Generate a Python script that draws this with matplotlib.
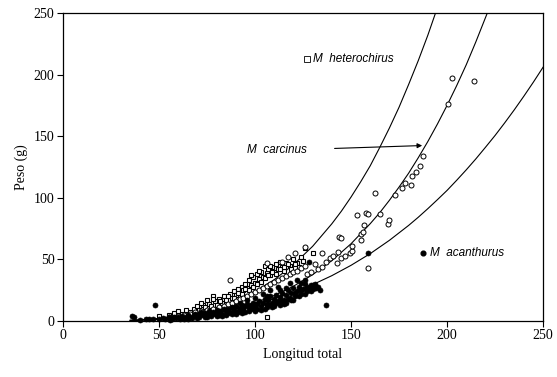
import matplotlib
matplotlib.use('Agg')
from matplotlib import pyplot as plt

# Fitted curves (longitud total -> peso)
het_curve_x = [35, 40, 50, 60, 70, 80, 90, 100, 110, 120, 130, 140, 145, 150, 155, 160, 165, 170, 175, 180, 185, 190, 196]
het_curve_y = [0.6, 0.9, 2.1, 3.9, 6.8, 10.9, 16.5, 23.9, 33.5, 45.7, 60.6, 78.9, 89.2, 100.6, 112.9, 126, 141, 156.7, 173.5, 192, 211.3, 232, 259]

car_curve_x = [35, 40, 50, 60, 70, 80, 90, 100, 110, 120, 130, 140, 150, 160, 165, 170, 175, 180, 185, 190, 195, 200, 205, 210, 215, 223]
car_curve_y = [0.35, 0.56, 1.24, 2.4, 4.1, 6.6, 10.1, 14.7, 20.7, 28.2, 37.6, 49, 62.7, 79, 88, 98, 108.7, 120, 132.5, 145.7, 159.9, 175, 191, 208, 226.6, 258]

aca_curve_x = [35, 40, 50, 60, 70, 80, 90, 100, 110, 120, 130, 140, 150, 160, 170, 180, 185, 190, 195, 200, 205, 210, 215, 220, 225, 230, 235, 240, 245, 250]
aca_curve_y = [0.6, 0.9, 1.7, 3.0, 4.7, 7.0, 9.9, 13.6, 18.0, 23.3, 29.5, 36.8, 45.2, 54.7, 65.5, 77.6, 84.2, 91.2, 98.5, 106, 114.2, 122.7, 131.6, 141, 150.6, 160.8, 171.4, 182.5, 194, 206]

# M. acanthurus (filled circles)
aca_x = [36, 37, 48, 40, 43, 45, 47, 50, 52, 53, 55, 57, 58, 60, 61, 62, 64, 65, 66, 68,
         69, 70, 71, 72, 73, 74, 75, 76, 77, 78, 79, 80, 81, 82, 83, 84, 85, 86, 87, 88,
         89, 90, 91, 92, 93, 94, 95, 96, 97, 98, 99, 100, 101, 102, 103, 104, 105, 106, 107, 108,
         109, 110, 111, 112, 113, 114, 115, 116, 117, 118, 119, 120, 121, 122, 123, 124, 125, 126, 127, 128,
         129, 130, 131, 133, 134, 137, 128, 159, 120, 115, 110, 105, 100, 95, 90, 85, 80, 75, 70, 65,
         112, 118, 122, 108, 104, 100, 96, 92,
         56, 59, 63, 67, 71, 74, 77, 81, 83, 86, 88, 91, 93, 94, 97, 99, 101, 103, 106, 107,
         109, 111, 113, 114, 116, 117, 119, 121, 123, 124, 126, 127, 129, 130, 132, 124, 126, 116, 113, 106]
aca_y = [4, 3, 13, 1, 1.5, 2, 1.5, 2, 2.5, 1.5, 3, 2, 3.5, 3, 2, 4, 3, 5, 3.5, 4.5,
         6, 4, 5.5, 7, 5, 6.5, 4.5, 8, 6, 7.5, 5.5, 9, 7, 8.5, 6, 10, 8, 9.5, 7, 11,
         9, 12, 8.5, 10.5, 13, 9.5, 12, 14, 10.5, 13, 15, 11, 14, 16.5, 12, 15, 18, 13.5, 17, 20,
         14.5, 18, 21, 16, 19.5, 23, 17, 21, 25, 19, 22.5, 27, 20, 24, 28, 22, 26, 30, 24, 27.5,
         29, 26, 30, 28, 25, 13, 48, 55, 17, 14, 12, 10, 8.5, 7.5, 6, 5, 4, 3, 2.5, 2,
         28, 31, 33, 25, 22, 19, 17, 15,
         1, 2.5, 1.5, 2.5, 3, 3.5, 4, 5, 4, 6.5, 5.5, 7, 6.5, 8, 8, 9.5, 10, 9, 11, 13,
         11, 15, 13, 16, 15, 18, 17, 23, 20, 25, 22, 27, 24, 29, 27, 31, 33, 27, 25, 20]

# M. heterochirus (open squares)
het_x = [50, 55, 58, 60, 62, 64, 66, 68, 70, 71, 73, 74, 76, 77, 79, 80, 81, 83, 84, 85,
         87, 88, 89, 90, 91, 92, 93, 94, 95, 96, 97, 98, 99, 100, 101, 102, 103, 104, 105, 106,
         107, 108, 109, 110, 111, 112, 113, 114, 115, 116, 118, 120, 122, 124, 126, 125, 130, 106, 78, 72,
         75, 78, 82, 86, 89, 91, 93, 95, 97, 99, 101, 103, 105, 107, 109, 111, 113, 115, 117, 119,
         121, 123, 98, 102, 108]
het_y = [4, 5, 6.5, 8, 6, 9, 7.5, 10, 12, 9, 13, 11, 14, 12.5, 16, 13, 18, 15, 20, 17,
         22, 19, 24, 21, 26, 23, 28, 25, 30, 27, 33, 29, 36, 31, 38, 34, 40, 36, 45, 39,
         42, 37, 44, 40, 46, 42, 48, 44, 41, 47, 45, 50, 47, 52, 59, 49, 55, 3.5, 20, 15,
         17, 18, 16, 20, 19, 23, 22, 26, 25, 28, 30, 32, 35, 37, 40, 38, 42, 44, 46, 42,
         46, 44, 37, 41, 45]

# M. carcinus (open circles)
car_x = [55, 60, 63, 66, 69, 72, 75, 78, 81, 84, 86, 88, 90, 92, 94, 96, 98, 100, 102, 104,
         106, 108, 110, 112, 114, 116, 118, 120, 122, 124, 126, 127, 129, 131, 133, 135, 135, 137, 139, 140.5,
         142.7, 143, 144, 145, 145, 147, 149.5, 150.5, 150.5, 153, 155, 155, 156, 157, 158, 159, 159, 162.5, 165, 169,
         170, 173, 176.5, 178, 181, 182, 184, 186, 187.5, 200.5, 202.6, 214, 106, 114, 126, 117, 121, 87]
car_y = [3, 4, 5, 6, 7, 8, 9, 10, 11.5, 12.5, 14, 15, 16, 17.5, 19, 20, 22, 23.5, 25, 27,
         28.5, 30, 32, 33.5, 35, 36.5, 38, 40, 41, 43, 45, 38, 40, 46, 42, 55, 44, 48, 51, 53,
         47, 56, 68, 51, 67, 53, 55, 57, 61, 86, 66, 71, 72, 78, 88, 87, 43, 104, 87, 79,
         82, 102, 108, 112, 110, 118, 121, 126, 134, 176, 197, 195, 47, 48, 60, 52, 55, 33]

plt.rcParams['font.family'] = ['Liberation Serif', 'DejaVu Serif']

fig = plt.figure(figsize=(5.57, 3.77), dpi=100)
ax = fig.add_axes([0.113, 0.1485, 0.862, 0.817])

ax.plot(het_curve_x, het_curve_y, color='black', lw=0.8)
ax.plot(car_curve_x, car_curve_y, color='black', lw=0.8)
ax.plot(aca_curve_x, aca_curve_y, color='black', lw=0.8)

ax.plot(het_x, het_y, 's', ms=3.2, mfc='white', mec='black', mew=0.8, clip_on=False)
ax.plot(car_x, car_y, 'o', ms=3.6, mfc='white', mec='black', mew=0.7, clip_on=False)
ax.plot(aca_x, aca_y, 'o', ms=3.6, mfc='black', mec='black', mew=0.5, clip_on=False)

# labels on the plot
sans = ['Liberation Sans', 'DejaVu Sans']
ax.plot([127], [213], 's', ms=4, mfc='white', mec='black', mew=0.6)
ax.text(130, 213, 'M  heterochirus', family=sans, style='italic', fontsize=8.5, va='center')
ax.annotate('', xy=(188.5, 142.5), xytext=(140, 140),
            arrowprops=dict(arrowstyle='-|>', color='black', lw=0.8, mutation_scale=7))
ax.text(96, 138.5, 'M  carcinus', family=sans, style='italic', fontsize=8.5, va='center')
ax.plot([187.5], [55], 'o', ms=3.4, color='black')
ax.text(191, 55, 'M  acanthurus', family=sans, style='italic', fontsize=8.5, va='center')

ax.set_xlim(0, 250)
ax.set_ylim(0, 250)
ax.set_xticks([0, 50, 100, 150, 200, 250])
ax.set_yticks([0, 50, 100, 150, 200, 250])
ax.tick_params(axis='both', direction='out', length=4, width=0.8, labelsize=10, pad=2)
for s in ax.spines.values():
    s.set_linewidth(0.9)

ax.set_xlabel('Longitud total', fontsize=10)
ax.set_ylabel('Peso (g)', fontsize=10)

fig.savefig('out.png', dpi=100)
